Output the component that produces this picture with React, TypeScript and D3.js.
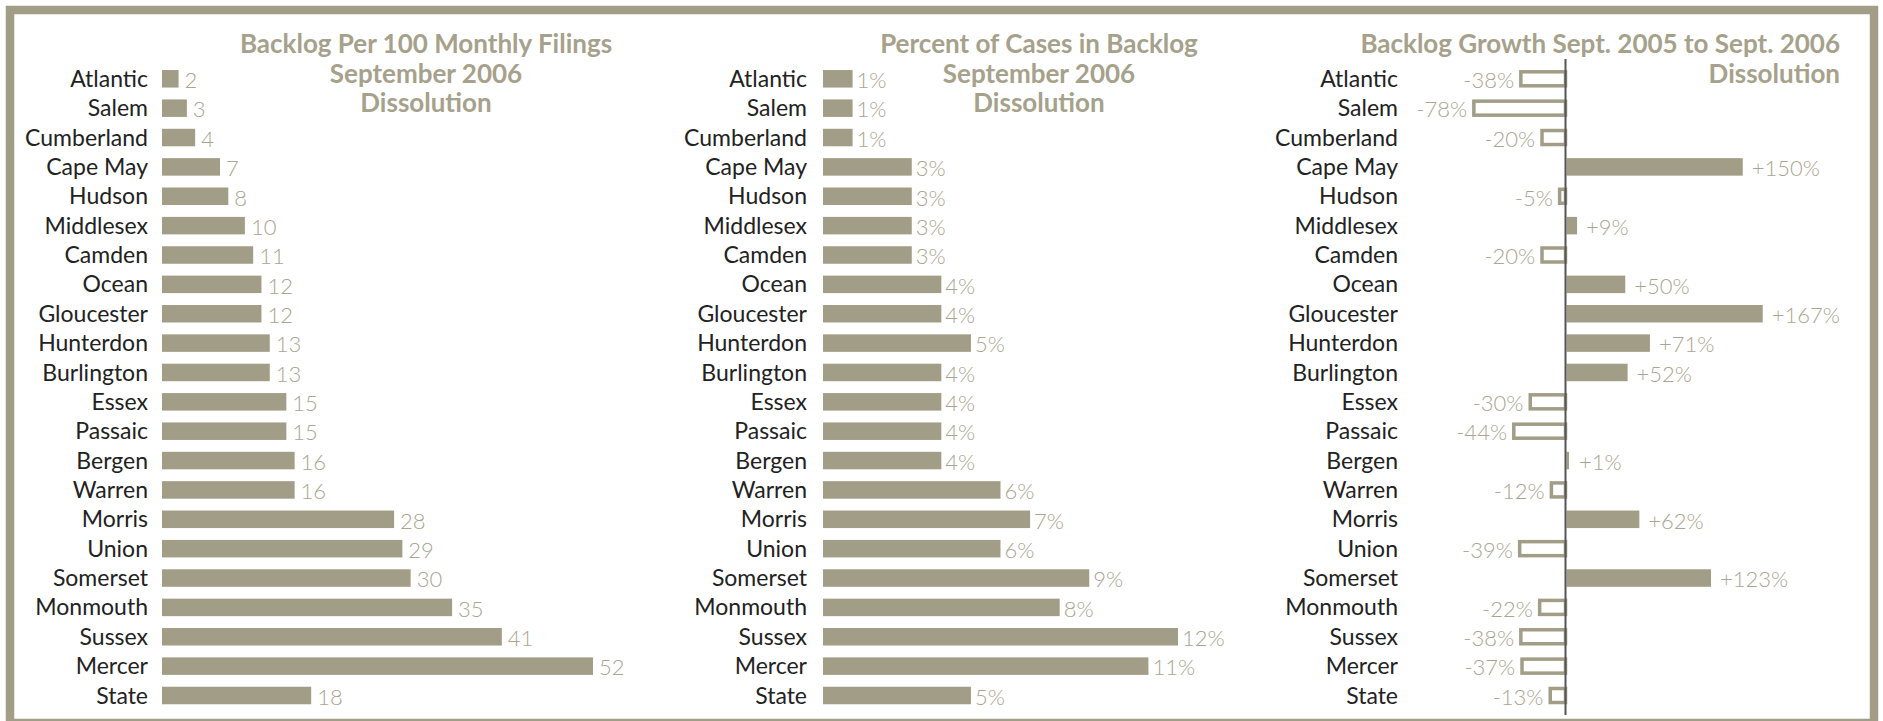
import React, { useEffect, useRef } from 'react';
import * as d3 from 'd3';

// Counties in chart order (top to bottom)
const counties = [
  'Atlantic', 'Salem', 'Cumberland', 'Cape May', 'Hudson', 'Middlesex', 'Camden',
  'Ocean', 'Gloucester', 'Hunterdon', 'Burlington', 'Essex', 'Passaic', 'Bergen',
  'Warren', 'Morris', 'Union', 'Somerset', 'Monmouth', 'Sussex', 'Mercer', 'State',
];

// Backlog per 100 monthly filings, Sept 2006
const backlogPer100 = [2, 3, 4, 7, 8, 10, 11, 12, 12, 13, 13, 15, 15, 16, 16, 28, 29, 30, 35, 41, 52, 18];

// Percent of cases in backlog, Sept 2006
const percentInBacklog = [1, 1, 1, 3, 3, 3, 3, 4, 4, 5, 4, 4, 4, 4, 6, 7, 6, 9, 8, 12, 11, 5];

// Backlog growth Sept 2005 -> Sept 2006 (%)
const backlogGrowth = [-38, -78, -20, 150, -5, 9, -20, 50, 167, 71, 52, -30, -44, 1, -12, 62, -39, 123, -22, -38, -37, -13];

const title1 = ['Backlog Per 100 Monthly Filings', 'September 2006', 'Dissolution'];
const title2 = ['Percent of Cases in Backlog', 'September 2006', 'Dissolution'];
const title3 = ['Backlog Growth Sept. 2005 to Sept. 2006', 'Dissolution'];

const TAN = '#a29d86';
const TITLE_COLOR = '#a6a18b';
const VALUE_COLOR = '#aaa590';
const LABEL_COLOR = '#222';
const FONT = 'Lato, "Open Sans", sans-serif';

function App() {
  const svgRef = useRef<SVGSVGElement>(null);
  const width = 1883;
  const height = 721;

  useEffect(() => {
    if (!svgRef.current) return;
    const svg = d3.select(svgRef.current);
    svg.selectAll('*').remove();

    // frame (bottom edge runs off the picture)
    svg.append('rect')
      .attr('x', 10).attr('y', 10)
      .attr('width', 1864).attr('height', 713)
      .attr('fill', 'white')
      .attr('stroke', TAN)
      .attr('stroke-width', 8.5);

    const y = d3.scalePoint<string>().domain(counties).range([78.8, 695.5]);
    const barH = 17.5;

    const rowLabels = (labelX: number) => {
      svg.append('g')
        .selectAll('text')
        .data(counties)
        .join('text')
        .attr('x', labelX)
        .attr('y', d => y(d)!)
        .attr('dy', '0.35em')
        .attr('text-anchor', 'end')
        .style('font-family', FONT)
        .style('font-size', '23px')
        .style('fill', LABEL_COLOR)
        .text(d => d);
    };

    const title = (lines: string[], x: number, anchor: string) => {
      svg.append('g')
        .selectAll('text')
        .data(lines)
        .join('text')
        .attr('x', x)
        .attr('y', (_, i) => 53 + i * 29.5)
        .attr('text-anchor', anchor)
        .style('font-family', FONT)
        .style('font-weight', 'bold')
        .style('font-size', '26px')
        .style('fill', TITLE_COLOR)
        .text(d => d);
    };

    // Simple positive bar panel
    const barPanel = (values: number[], x: d3.ScaleLinear<number, number>, fmt: (v: number) => string, gap: number) => {
      const rows = counties.map((c, i) => ({ c, v: values[i] }));
      const g = svg.append('g');
      g.selectAll('rect')
        .data(rows)
        .join('rect')
        .attr('x', x(0))
        .attr('y', d => y(d.c)! - barH / 2)
        .attr('width', d => x(d.v) - x(0))
        .attr('height', barH)
        .attr('fill', TAN);
      g.selectAll('text')
        .data(rows)
        .join('text')
        .attr('x', d => x(d.v) + gap)
        .attr('y', d => y(d.c)!)
        .attr('dy', '0.42em')
        .style('font-family', FONT)
        .style('font-weight', 300)
        .style('font-size', '22px')
        .style('fill', VALUE_COLOR)
        .text(d => fmt(d.v));
    };

    // Panel 1
    rowLabels(148);
    const x1 = d3.scaleLinear().domain([0, 52]).range([162, 593]);
    barPanel(backlogPer100, x1, v => String(v), 6);
    title(title1, 426, 'middle');

    // Panel 2
    rowLabels(807);
    const x2 = d3.scaleLinear().domain([0, 12]).range([823, 1178]);
    barPanel(percentInBacklog, x2, v => v + '%', 4);
    title(title2, 1039, 'middle');

    // Panel 3: diverging growth
    rowLabels(1398);
    const x3 = d3.scaleLinear().domain([-78, 167]).range([1565.5 - 78 * 1.175, 1565.5 + 167 * 1.175]);
    const rows3 = counties.map((c, i) => ({ c, v: backlogGrowth[i] }));
    const g3 = svg.append('g');
    const sw = 3.5;
    g3.selectAll('rect.neg')
      .data(rows3.filter(d => d.v < 0))
      .join('rect')
      .attr('class', 'neg')
      .attr('x', d => x3(d.v))
      .attr('y', d => y(d.c)! - (barH - sw) / 2)
      .attr('width', d => x3(0) - x3(d.v))
      .attr('height', barH - sw)
      .attr('fill', 'white')
      .attr('stroke', TAN)
      .attr('stroke-width', sw);
    // positive bars start at the right edge of the zero line
    g3.selectAll('rect.pos')
      .data(rows3.filter(d => d.v >= 0))
      .join('rect')
      .attr('class', 'pos')
      .attr('x', x3(0) + 1)
      .attr('y', d => y(d.c)! - barH / 2)
      .attr('width', d => Math.max(2.5, x3(d.v) - x3(0)))
      .attr('height', barH)
      .attr('fill', TAN);
    g3.selectAll('text')
      .data(rows3)
      .join('text')
      .attr('x', d => d.v < 0 ? x3(d.v) - sw / 2 - 5 : Math.max(x3(d.v), x3(0) + 3.5) + 10)
      .attr('y', d => y(d.c)!)
      .attr('dy', '0.42em')
      .attr('text-anchor', d => d.v < 0 ? 'end' : 'start')
      .style('font-family', FONT)
      .style('font-weight', 300)
      .style('font-size', '22px')
      .style('fill', VALUE_COLOR)
      .text(d => (d.v < 0 ? '-' + Math.abs(d.v) : '+' + d.v) + '%');

    // zero line
    g3.append('line')
      .attr('x1', x3(0)).attr('x2', x3(0))
      .attr('y1', 59).attr('y2', 715)
      .attr('stroke', '#555')
      .attr('stroke-width', 2);

    title(title3, 1840, 'end');
  }, []);

  return (
    <div style={{ position: 'absolute', left: 0, top: 0 }}>
      <svg ref={svgRef} width={width} height={height} style={{ display: 'block', background: 'white' }}></svg>
    </div>
  );
}

export default App;
